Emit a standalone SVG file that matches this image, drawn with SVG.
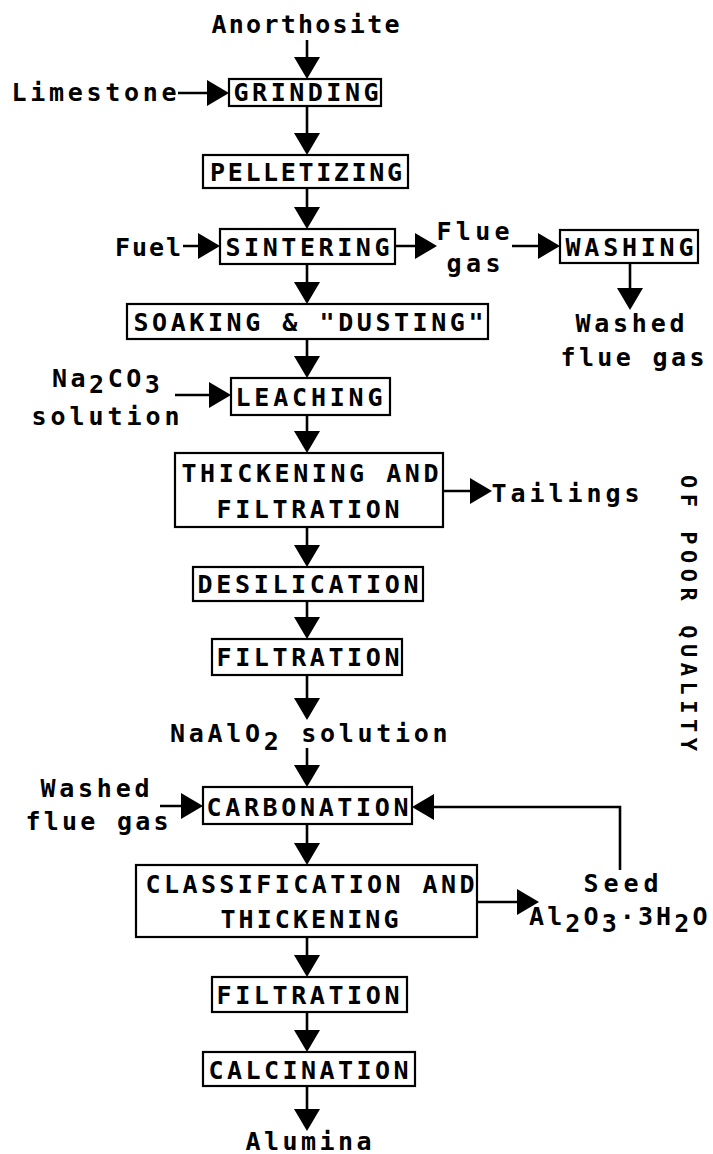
<svg xmlns="http://www.w3.org/2000/svg" width="713" height="1154" viewBox="0 0 713 1154">
<style>
.t{font-family:"DejaVu Sans Mono","Liberation Mono",monospace;font-size:25px;font-weight:bold;fill:#000}
.m{text-anchor:middle}
.b{fill:#fff;stroke:#000;stroke-width:2.2}
.c{fill:none;stroke:#000;stroke-width:2.6}
</style>
<defs>
<marker id="ah" markerUnits="userSpaceOnUse" viewBox="0 0 22 26" refX="19" refY="13" markerWidth="22" markerHeight="26" orient="auto">
<path d="M0,0 L22,13 L0,26 Z" fill="#000"/>
</marker>
</defs>
<rect width="713" height="1154" fill="#fff"/>

<g id="connectors" class="c" marker-end="url(#ah)">
<path d="M307,40 V76"/>
<path d="M178,93 H226"/>
<path d="M307,106 V152"/>
<path d="M307,188 V226"/>
<path d="M183,246 H217"/>
<path d="M395,246 H434"/>
<path d="M512,246 H557"/>
<path d="M630,263 V307"/>
<path d="M307,264 V301"/>
<path d="M307,339 V375"/>
<path d="M175,395 H228"/>
<path d="M307,415 V450"/>
<path d="M443,491 H489"/>
<path d="M307,527 V564"/>
<path d="M307,601 V636"/>
<path d="M307,675 V717"/>
<path d="M307,748 V784"/>
<path d="M160,806 H200"/>
<path d="M620,870 V807 H415"/>
<path d="M307,824 V862"/>
<path d="M477,902 H536"/>
<path d="M307,937 V974"/>
<path d="M307,1012 V1049"/>
<path d="M307,1086 V1128"/>
</g>

<g id="anorthosite"><text class="t m" x="305.5" y="33" textLength="188" lengthAdjust="spacing">Anorthosite</text></g>
<g id="limestone"><text class="t m" x="94" y="101" textLength="165" lengthAdjust="spacing">Limestone</text></g>
<g id="grinding"><rect class="b" x="229" y="79" width="152" height="27"/><text class="t m" x="306" y="101" textLength="145" lengthAdjust="spacing">GRINDING</text></g>
<g id="pelletizing"><rect class="b" x="203" y="155" width="205" height="33"/><text class="t m" x="306" y="181" textLength="192" lengthAdjust="spacing">PELLETIZING</text></g>
<g id="fuel"><text class="t m" x="148" y="256" textLength="66" lengthAdjust="spacing">Fuel</text></g>
<g id="sintering"><rect class="b" x="220" y="229" width="175" height="35"/><text class="t m" x="307.5" y="256" textLength="164" lengthAdjust="spacing">SINTERING</text></g>
<g id="fluegas"><text class="t m" x="473" y="240" textLength="73" lengthAdjust="spacing">Flue</text><text class="t m" x="473.5" y="272" textLength="54" lengthAdjust="spacing">gas</text></g>
<g id="washing"><rect class="b" x="560" y="230" width="138" height="33"/><text class="t m" x="629.5" y="256" textLength="128" lengthAdjust="spacing">WASHING</text></g>
<g id="washed-flue-gas-out"><text class="t m" x="630" y="332" textLength="109" lengthAdjust="spacing">Washed</text><text class="t m" x="632.5" y="366" textLength="144" lengthAdjust="spacing">flue gas</text></g>
<g id="soaking"><rect class="b" x="127" y="304" width="361" height="35"/><text class="t m" x="308.5" y="331" textLength="350" lengthAdjust="spacing">SOAKING &amp; "DUSTING"</text></g>
<g id="na2co3"><text class="t" x="52" y="387" letter-spacing="3.5">Na<tspan dy="6">2</tspan><tspan dy="-6">CO</tspan><tspan dy="6">3</tspan></text><text class="t m" x="105.5" y="425" textLength="148" lengthAdjust="spacing">solution</text></g>
<g id="leaching"><rect class="b" x="231" y="378" width="159" height="37"/><text class="t m" x="309" y="406" textLength="147" lengthAdjust="spacing">LEACHING</text></g>
<g id="thickening-filtration"><rect class="b" x="175" y="453" width="268" height="74"/><text class="t m" x="310" y="482" textLength="257" lengthAdjust="spacing">THICKENING AND</text><text class="t m" x="308" y="518" textLength="183" lengthAdjust="spacing">FILTRATION</text></g>
<g id="tailings"><text class="t m" x="565.5" y="502" textLength="148" lengthAdjust="spacing">Tailings</text></g>
<g id="desilication"><rect class="b" x="193" y="567" width="230" height="34"/><text class="t m" x="308" y="593" textLength="221" lengthAdjust="spacing">DESILICATION</text></g>
<g id="filtration1"><rect class="b" x="212" y="639" width="190" height="36"/><text class="t m" x="308" y="666" textLength="183" lengthAdjust="spacing">FILTRATION</text></g>
<g id="naalo2"><text class="t" x="170" y="742" letter-spacing="3.7">NaAlO<tspan dy="8">2</tspan><tspan dy="-8"> solution</tspan></text></g>
<g id="washed-flue-gas-in"><text class="t m" x="95" y="797" textLength="109" lengthAdjust="spacing">Washed</text><text class="t m" x="97" y="830" textLength="143" lengthAdjust="spacing">flue gas</text></g>
<g id="carbonation"><rect class="b" x="203" y="787" width="209" height="37"/><text class="t m" x="307.5" y="816" textLength="202" lengthAdjust="spacing">CARBONATION</text></g>
<g id="classification"><rect class="b" x="136" y="865" width="341" height="72"/><text class="t m" x="310" y="893" textLength="329" lengthAdjust="spacing">CLASSIFICATION AND</text><text class="t m" x="309.5" y="928" textLength="178" lengthAdjust="spacing">THICKENING</text></g>
<g id="seed"><text class="t m" x="621" y="892" textLength="75" lengthAdjust="spacing">Seed</text><text class="t" x="529" y="925" letter-spacing="3.1">Al<tspan dy="7">2</tspan><tspan dy="-7">O</tspan><tspan dy="7">3</tspan><tspan dy="-7">·3H</tspan><tspan dy="7">2</tspan><tspan dy="-7">O</tspan></text></g>
<g id="filtration2"><rect class="b" x="212" y="977" width="195" height="35"/><text class="t m" x="308" y="1004" textLength="183" lengthAdjust="spacing">FILTRATION</text></g>
<g id="calcination"><rect class="b" x="203" y="1052" width="212" height="34"/><text class="t m" x="308.5" y="1079" textLength="200" lengthAdjust="spacing">CALCINATION</text></g>
<g id="alumina"><text class="t m" x="308.5" y="1150" textLength="126" lengthAdjust="spacing">Alumina</text></g>
<g id="stamp"><text class="t" transform="translate(681,475) rotate(90)" style="font-size:22px" textLength="276" lengthAdjust="spacing">OF POOR QUALITY</text></g>
</svg>
